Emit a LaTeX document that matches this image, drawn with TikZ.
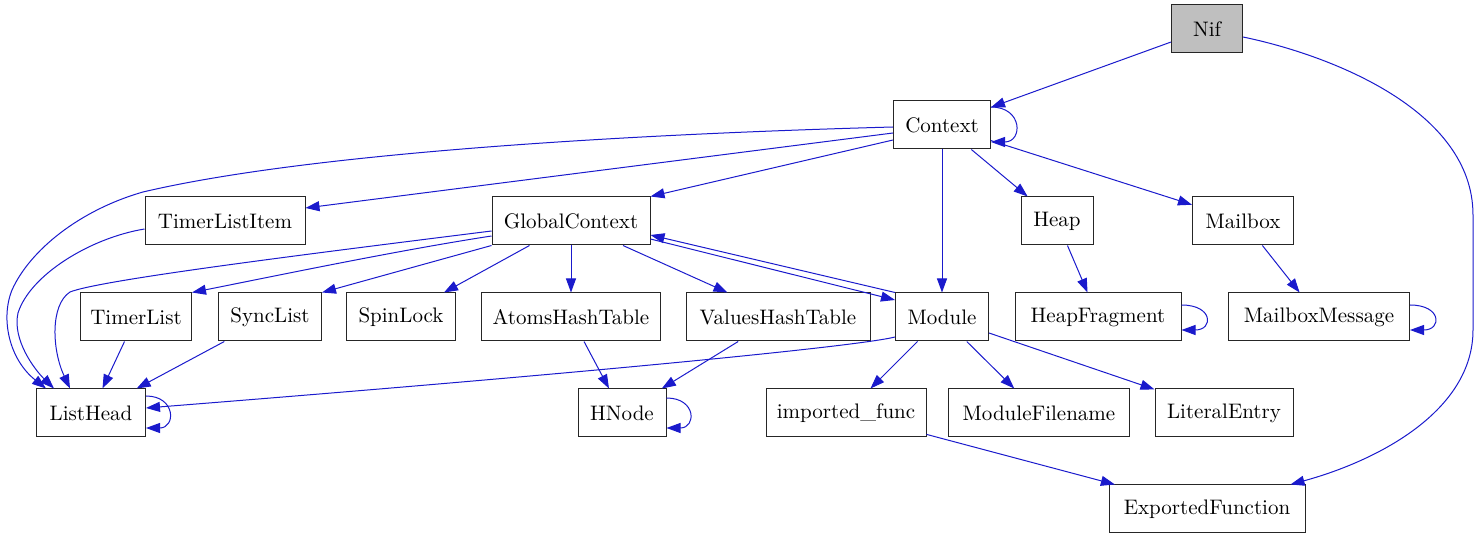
\documentclass[tikz,border=0pt]{standalone}
\usepackage{tikz}
\usetikzlibrary{arrows.meta}
\usepackage{xcolor}

\definecolor{edgeblue}{RGB}{26,26,204}
\definecolor{nifgray}{RGB}{191,191,191}

\begin{document}
\begin{tikzpicture}[x=0.5pt, y=-0.5pt, font=\fontsize{10.5}{12.5}\selectfont,
    cls/.style={draw=black!85, line width=0.5pt, rectangle, minimum height=24pt, inner sep=0pt},
    edge/.style={draw=edgeblue, line width=0.5pt, -{Triangle[length=7pt,width=5pt]}}]
  \useasboundingbox (0,0) rectangle (1479,539);

  %% Row 0 / 1
  \node[cls, fill=nifgray, minimum width=35.5pt] (nif) at (1207,29) {Nif};
  \node[cls, minimum width=48.5pt] (ctx) at (942,125) {Context};

  %% Row 2
  \node[cls, minimum width=80pt]   (tli)  at (225,221)  {TimerListItem};
  \node[cls, minimum width=79pt]   (gc)   at (571,221)  {GlobalContext};
  \node[cls, minimum width=36pt]   (heap) at (1057,221) {Heap};
  \node[cls, minimum width=50.5pt] (mb)   at (1243,221) {Mailbox};

  %% Row 3
  \node[cls, minimum width=55.5pt] (tl)  at (136,317)  {TimerList};
  \node[cls, minimum width=51.5pt] (sl)  at (270,317)  {SyncList};
  \node[cls, minimum width=54.5pt] (sp)  at (401,317)  {SpinLock};
  \node[cls, minimum width=89.5pt] (ah)  at (571,317)  {AtomsHashTable};
  \node[cls, minimum width=92pt]   (vh)  at (778,317)  {ValuesHashTable};
  \node[cls, minimum width=46.5pt] (mod) at (942,317)  {Module};
  \node[cls, minimum width=83pt]   (hf)  at (1098,317) {HeapFragment};
  \node[cls, minimum width=90.5pt] (mm)  at (1319,317) {MailboxMessage};

  %% Row 4 / 5
  \node[cls, minimum width=54.5pt] (lh)  at (91,413)   {ListHead};
  \node[cls, minimum width=44pt]   (hn)  at (622,413)  {HNode};
  \node[cls, minimum width=80pt]   (imp) at (846,413)  {imported\_func};
  \node[cls, minimum width=90.5pt] (mf)  at (1039,413) {ModuleFilename};
  \node[cls, minimum width=69pt]   (le)  at (1224,413) {LiteralEntry};
  \node[cls, minimum width=98pt]   (ef)  at (1207,509) {ExportedFunction};

  %% Nif
  \draw[edge] (nif) -- (ctx);
  \draw[edge] ([yshift=-4pt]nif.east) .. controls (1330,55) and (1473,110) .. (1473,215)
    -- (1473,330) .. controls (1473,410) and (1380,460) .. ([xshift=-7.5pt]ef.north east);

  %% Context
  \draw[edge] ([yshift=9pt]ctx.east) .. controls +(16pt,0) and +(16pt,0) .. ([yshift=-8.5pt]ctx.east);
  \draw[edge] ([yshift=-1pt]ctx.west) .. controls (600,135) and (300,155) .. (143,192)
    .. controls (80,210) and (30,250) .. (12,290) .. controls (0,320) and (10,360) .. ([xshift=5pt]lh.north west);
  \draw[edge] ([yshift=-4pt]ctx.west) -- ([yshift=6.5pt]tli.east);
  \draw[edge] ([yshift=-7.5pt]ctx.west) -- (gc.north east);
  \draw[edge] (ctx.south) -- (mod.north);
  \draw[edge] (ctx) -- (heap);
  \draw[edge] (ctx) -- (mb);

  %% TimerListItem
  \draw[edge] ([yshift=-4pt]tli.west) .. controls (90,238) and (30,275) .. (18,313)
    .. controls (12,340) and (35,370) .. ([xshift=9pt]lh.north west);

  %% GlobalContext
  \draw[edge] ([yshift=-5pt]gc.west) .. controls (300,255) and (100,280) .. (70,292)
    .. controls (50,305) and (52,350) .. ([xshift=17pt]lh.north west);
  \draw[edge] ([yshift=-7.5pt]gc.west) .. controls (400,250) and (280,275) .. (tl.north east);
  \draw[edge] (gc.south west) -- (sl.north east);
  \draw[edge] ([xshift=19pt]gc.south west) -- ([xshift=-6pt]sp.north east);
  \draw[edge] (gc.south) -- (ah.north);
  \draw[edge] ([xshift=26pt]gc.south) -- ([xshift=21pt]vh.north west);
  \draw[edge] ([yshift=-9pt]gc.east) -- ([yshift=8.5pt]mod.west);

  %% Module
  \draw[edge] (mod.north west) -- ([yshift=-7pt]gc.east);
  \draw[edge] ([yshift=-10pt]mod.west) .. controls (860,346) and (600,372) .. ([yshift=2.5pt]lh.east);
  \draw[edge] (mod) -- (imp);
  \draw[edge] (mod) -- (mf);
  \draw[edge] (mod) -- (le);

  %% Heap, Mailbox
  \draw[edge] (heap) -- (hf);
  \draw[edge] ([yshift=6pt]hf.east) .. controls +(16pt,0) and +(16pt,0) .. ([yshift=-6.5pt]hf.east);
  \draw[edge] (mb) -- (mm);
  \draw[edge] ([yshift=6pt]mm.east) .. controls +(16pt,0) and +(16pt,0) .. ([yshift=-6.5pt]mm.east);

  %% Lists and hash tables
  \draw[edge] (tl) -- (lh);
  \draw[edge] (sl) -- (lh);
  \draw[edge] ([yshift=8.5pt]lh.east) .. controls +(15pt,0) and +(15pt,0) .. ([yshift=-7.5pt]lh.east);
  \draw[edge] (ah) -- (hn);
  \draw[edge] (vh) -- (hn);
  \draw[edge] ([yshift=7.5pt]hn.east) .. controls +(15pt,0) and +(15pt,0) .. ([yshift=-7.5pt]hn.east);

  %% imported_func
  \draw[edge] (imp) -- (ef);
\end{tikzpicture}
\end{document}
